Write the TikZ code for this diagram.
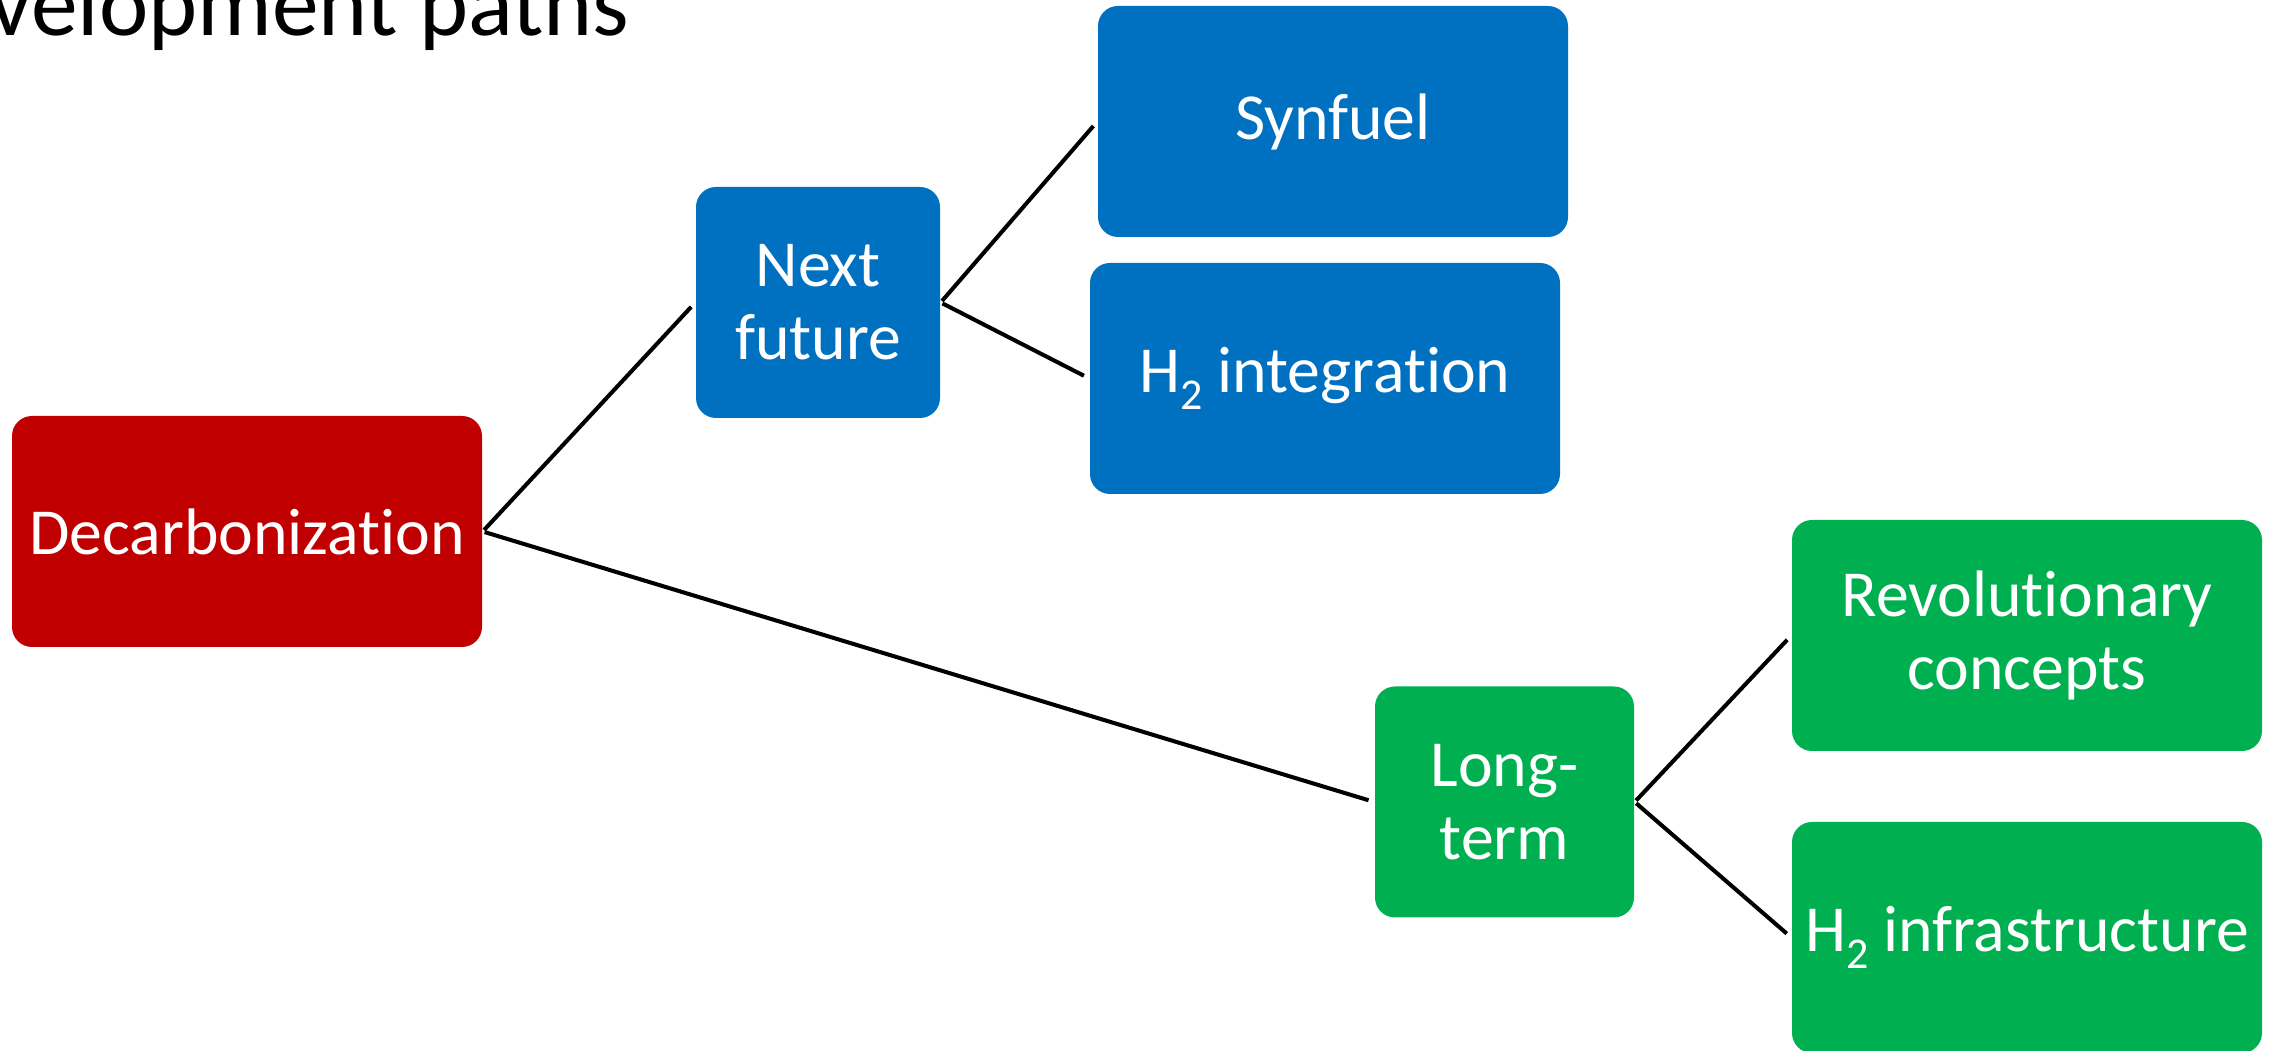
\documentclass[tikz,border=0pt]{standalone}
\usepackage{fontspec}
\setmainfont{Carlito}[Ligatures={NoCommon,NoContextual}]
\definecolor{decarbred}{HTML}{C00000}
\definecolor{nearblue}{HTML}{0070C0}
\definecolor{longgreen}{HTML}{00B050}
\newcommand{\hsub}{\raisebox{-0.17cm}{\fontsize{12.5pt}{12pt}\selectfont 2}}
\begin{document}
\begin{tikzpicture}[
    pathbox/.style={rounded corners=0.2cm, text=white, align=center, inner sep=0pt,
        minimum height=2.31cm, font=\fontsize{18.7pt}{20.8pt}\selectfont},
    branch/.style={line width=1.15pt, black, shorten <=0.02cm, shorten >=0.06cm}
]
    \useasboundingbox (0,0) rectangle (22.71,10.51);
    \clip (0,0) rectangle (22.71,10.51);

    % title, cut off on the left
    \node[anchor=base east, inner sep=0pt, font=\fontsize{26.6pt}{30pt}\selectfont] (title) at (6.30,10.15) {Development paths};

    % root
    \node[pathbox, fill=decarbred, minimum width=4.70cm] (decarb) at (2.47,5.195) {Decarbonization};

    % next future branch
    \node[pathbox, fill=nearblue, minimum width=2.44cm] (next) at (8.18,7.485) {Next\\future};
    \node[pathbox, fill=nearblue, minimum width=4.70cm] (synfuel) at (13.33,9.295) {Synfuel};
    \node[pathbox, fill=nearblue, minimum width=4.70cm] (h2int) at (13.25,6.725) {H\hsub{} integration};

    % long-term branch
    \node[pathbox, fill=longgreen, minimum width=2.59cm] (longterm) at (15.045,2.49) {Long-\\term};
    \node[pathbox, fill=longgreen, minimum width=4.70cm] (revol) at (20.27,4.155) {Revolutionary\\concepts};
    \node[pathbox, fill=longgreen, minimum width=4.70cm] (h2infra) at (20.27,1.135) {H\hsub{} infrastructure};

    % connectors
    \draw[branch] (decarb.east) -- (next.west);
    \draw[branch] (decarb.east) -- (longterm.west);
    \draw[branch] (next.east) -- (synfuel.west);
    \draw[branch] (next.east) -- (h2int.west);
    \draw[branch] (longterm.east) -- (revol.west);
    \draw[branch] (longterm.east) -- (h2infra.west);
\end{tikzpicture}
\end{document}
